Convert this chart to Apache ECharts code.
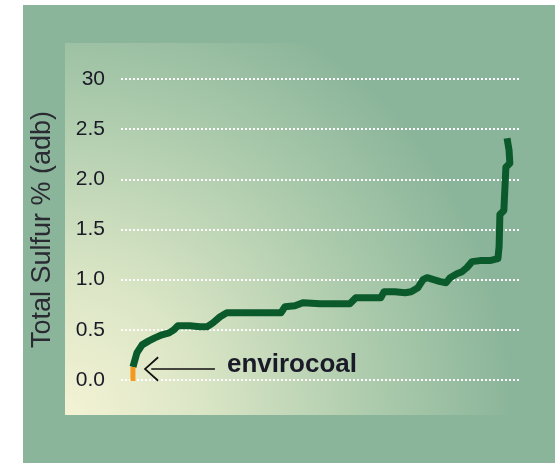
<!DOCTYPE html>
<html>
<head>
<meta charset="utf-8">
<style>
  html, body { margin: 0; padding: 0; background: #ffffff; }
  #chart { width: 555px; height: 463px; }
</style>
<script src="https://cdn.jsdelivr.net/npm/echarts@6/dist/echarts.min.js"></script>
</head>
<body>
<div id="chart"></div>
<script>
// ---- data ----
const sampleRank = [3.0, 4.0, 5.3, 7.0, 8.5, 10.3, 12.1, 13.3, 14.3, 17.3, 19.8, 21.6, 23.1, 24.9, 26.6, 29.9, 33.7, 37.4, 40.2, 41.2, 43.7, 45.7, 50.0, 53.8, 57.5, 59.0, 62.6, 65.3, 66.1, 68.8, 71.4, 72.9, 74.6, 75.9, 76.9, 80.2, 81.7, 82.7, 84.4, 85.7, 86.9, 88.2, 90.2, 92.7, 94.7, 95.0, 95.2, 96.2, 96.7, 97.7, 97.5, 97.0];
const totalSulfur = [0.13, 0.27, 0.35, 0.39, 0.42, 0.45, 0.47, 0.50, 0.54, 0.54, 0.53, 0.53, 0.57, 0.63, 0.67, 0.67, 0.67, 0.67, 0.67, 0.73, 0.74, 0.77, 0.76, 0.76, 0.76, 0.82, 0.82, 0.82, 0.88, 0.88, 0.87, 0.88, 0.92, 1.00, 1.02, 0.98, 0.97, 1.02, 1.06, 1.08, 1.12, 1.18, 1.19, 1.19, 1.21, 1.33, 1.65, 1.69, 2.12, 2.16, 2.29, 2.41];
const envirocoalRank = [3.0, 3.0];
const envirocoalSulfur = [-0.01, 0.13];
const arrowFrom = [23.6, 0.11];
const arrowTo = [7.6, 0.11];
const annotationText = 'envirocoal';
const yTickLabels = ['0.0', '0.5', '1.0', '1.5', '2.0', '2.5', '30'];
const yAxisTitle = 'Total Sulfur % (adb)';

const FONT = '"Liberation Sans", Arial, sans-serif';
const chart = echarts.init(document.getElementById('chart'), null, { renderer: 'canvas' });

const mainData = sampleRank.map((r, i) => [r, totalSulfur[i]]);
const envData = envirocoalRank.map((r, i) => [r, envirocoalSulfur[i]]);

chart.setOption({
  animation: false,
  backgroundColor: '#ffffff',
  graphic: [
    { type: 'rect', z: -20, silent: true, shape: { x: 23, y: 5, width: 532, height: 458 }, style: { fill: '#8bb59a' } },
    { type: 'rect', z: -19, silent: true, shape: { x: 65, y: 43, width: 490, height: 372 },
      style: { fill: { type: 'radial', x: 0, y: 1, r: 1.2, colorStops: [
        { offset: 0, color: '#f4f3d5' },
        { offset: 0.3, color: '#dbe6c6' },
        { offset: 0.65, color: '#b1ceaf' },
        { offset: 1, color: '#8bb59a' }
      ] } } }
  ],
  grid: { left: 121, right: 36, top: 79, bottom: 83 },
  xAxis: { type: 'value', min: 0, max: 100, show: false },
  yAxis: {
    type: 'value', min: 0, max: 3, interval: 0.5,
    axisLine: { show: false }, axisTick: { show: false },
    axisLabel: {
      margin: 16, fontSize: 21, color: '#1a1a26', fontFamily: FONT,
      formatter: (v) => yTickLabels[Math.round(v / 0.5)]
    },
    splitLine: { lineStyle: { color: '#ffffff', width: 2, type: [2, 2] } },
    name: yAxisTitle, nameLocation: 'middle', nameRotate: 90, nameGap: 65,
    nameTextStyle: { fontSize: 27, color: '#2a2a33', fontFamily: FONT }
  },
  series: [
    {
      type: 'line', data: mainData, showSymbol: false, silent: true, z: 3,
      lineStyle: { color: '#0b5a2c', width: 7, join: 'round', cap: 'butt' }
    },
    {
      type: 'line', data: envData, showSymbol: false, silent: true, z: 4,
      lineStyle: { color: '#f39a1e', width: 5, cap: 'butt' },
      markLine: {
        silent: true,
        symbol: ['none', 'path://M0,14 L12,0 L24,14 L22.6,15.2 L12,2.6 L1.4,15.2 Z'],
        symbolSize: [25, 15],
        lineStyle: { color: '#111111', width: 1.5, type: 'solid' },
        label: {
          show: true, position: 'start', distance: 12, formatter: annotationText,
          fontSize: 26, fontWeight: 'bold', color: '#1a1a28', fontFamily: FONT, offset: [0, -4]
        },
        emphasis: { disabled: true },
        data: [[{ coord: arrowFrom }, { coord: arrowTo }]]
      }
    }
  ]
});
</script>
</body>
</html>
